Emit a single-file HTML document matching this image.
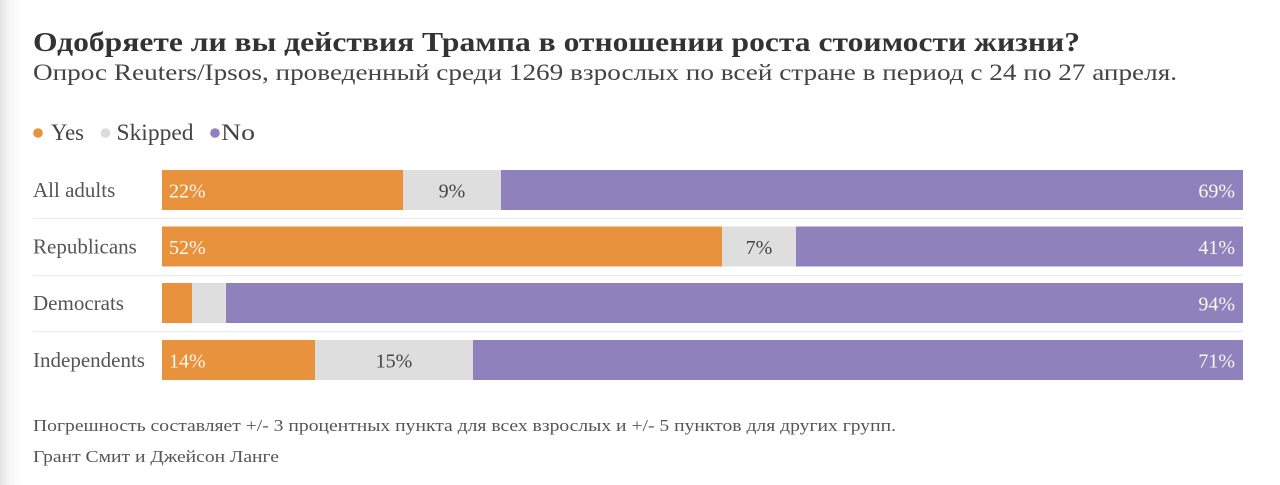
<!DOCTYPE html>
<html>
<head>
<meta charset="utf-8">
<style>
  html, body { margin:0; padding:0; }
  body { width:1280px; height:485px; overflow:hidden;
    background: linear-gradient(to right, #e2e2e2 0px, #f4f4f4 8px, #ffffff 22px, #ffffff 100%); }
  svg { position:absolute; left:0; top:0; }
  text { font-family: "Liberation Serif", "Noto Serif CJK SC", serif; }
</style>
</head>
<body>
<svg width="1280" height="485" viewBox="0 0 1280 485" xmlns="http://www.w3.org/2000/svg">
  <!-- Title -->
  <text x="33" y="51" font-size="27" font-weight="bold" fill="#333" textLength="1047" lengthAdjust="spacingAndGlyphs">Одобряете ли вы действия Трампа в отношении роста стоимости жизни?</text>
  <text x="33" y="80" font-size="23.5" fill="#444" textLength="1144" lengthAdjust="spacingAndGlyphs">Опрос Reuters/Ipsos, проведенный среди 1269 взрослых по всей стране в период с 24 по 27 апреля.</text>

  <!-- Legend -->
  <circle cx="38" cy="133" r="4.8" fill="#e9923e"/>
  <text x="51" y="140" font-size="23" fill="#444" textLength="33" lengthAdjust="spacingAndGlyphs">Yes</text>
  <circle cx="105.5" cy="133" r="4.8" fill="#dcdcdc"/>
  <text x="116.5" y="140" font-size="23" fill="#444" textLength="77" lengthAdjust="spacingAndGlyphs">Skipped</text>
  <circle cx="215" cy="133" r="4.8" fill="#8f81bb"/>
  <text x="221" y="140" font-size="23" fill="#444" textLength="34" lengthAdjust="spacingAndGlyphs">No</text>

  <!-- Separators -->
  <rect x="33" y="218" width="1210" height="1" fill="#e6ebf0"/>
  <rect x="33" y="275" width="1210" height="1" fill="#e6ebf0"/>
  <rect x="33" y="331" width="1210" height="1" fill="#e6ebf0"/>

  <!-- Row 1: All adults -->
  <text x="33" y="197" font-size="21" fill="#555">All adults</text>
  <rect x="162" y="170" width="241" height="40" fill="#e9923e"/>
  <rect x="403" y="170" width="98" height="40" fill="#dedede"/>
  <rect x="501" y="170" width="742" height="40" fill="#8f81bb"/>
  <text x="169" y="197.5" font-size="20" fill="#fdf7ee">22%</text>
  <text x="452" y="197.5" font-size="20" fill="#444" text-anchor="middle">9%</text>
  <text x="1235" y="197.5" font-size="20" fill="#fdf7ee" text-anchor="end">69%</text>

  <!-- Row 2: Republicans -->
  <text x="33" y="253.5" font-size="21" fill="#555">Republicans</text>
  <rect x="162" y="226.5" width="560" height="40" fill="#e9923e"/>
  <rect x="722" y="226.5" width="74" height="40" fill="#dedede"/>
  <rect x="796" y="226.5" width="447" height="40" fill="#8f81bb"/>
  <text x="169" y="254" font-size="20" fill="#fdf7ee">52%</text>
  <text x="759" y="254" font-size="20" fill="#444" text-anchor="middle">7%</text>
  <text x="1235" y="254" font-size="20" fill="#fdf7ee" text-anchor="end">41%</text>

  <!-- Row 3: Democrats -->
  <text x="33" y="310" font-size="21" fill="#555">Democrats</text>
  <rect x="162" y="283" width="30" height="40" fill="#e9923e"/>
  <rect x="192" y="283" width="34" height="40" fill="#dedede"/>
  <rect x="226" y="283" width="1017" height="40" fill="#8f81bb"/>
  <text x="1235" y="310.5" font-size="20" fill="#fdf7ee" text-anchor="end">94%</text>

  <!-- Row 4: Independents -->
  <text x="33" y="367" font-size="21" fill="#555">Independents</text>
  <rect x="162" y="340" width="153" height="40" fill="#e9923e"/>
  <rect x="315" y="340" width="158" height="40" fill="#dedede"/>
  <rect x="473" y="340" width="770" height="40" fill="#8f81bb"/>
  <text x="169" y="367.5" font-size="20" fill="#fdf7ee">14%</text>
  <text x="394" y="367.5" font-size="20" fill="#444" text-anchor="middle">15%</text>
  <text x="1235" y="367.5" font-size="20" fill="#fdf7ee" text-anchor="end">71%</text>

  <!-- Footnotes -->
  <text x="33" y="431" font-size="17" fill="#555" textLength="863" lengthAdjust="spacingAndGlyphs">Погрешность составляет +/- 3 процентных пункта для всех взрослых и +/- 5 пунктов для других групп.</text>
  <text x="33" y="462" font-size="17" fill="#555" textLength="246" lengthAdjust="spacingAndGlyphs">Грант Смит и Джейсон Ланге</text>
</svg>
</body>
</html>
